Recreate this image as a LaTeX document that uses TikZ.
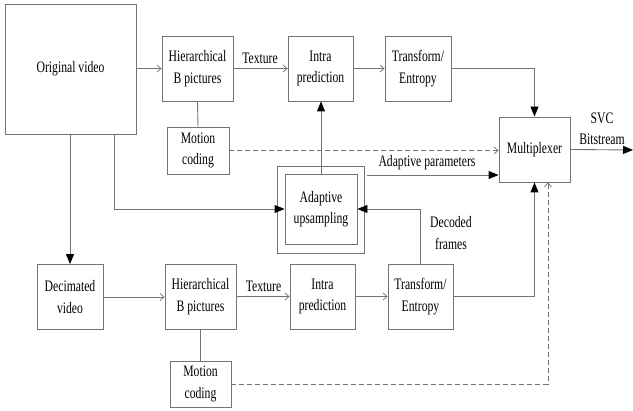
\documentclass[tikz,border=0pt]{standalone}
\usepackage{fontspec}
\setmainfont{Liberation Serif}[FakeStretch=0.73]
\usetikzlibrary{arrows.meta,calc}
\begin{document}
\begin{tikzpicture}[x=1pt,y=-1pt,
  line width=0.9pt,
  lc/.style={draw=black!55},
  box/.style={draw=black!55,line width=0.9pt,rectangle,inner sep=0pt,align=center,font=\fontsize{16}{21.5}\selectfont},
  lbl/.style={align=center,inner sep=0pt,font=\fontsize{16}{21.5}\selectfont},
  openar/.style={lc,-{Straight Barb[length=4pt,width=7pt,line width=0.7pt]}},
  fillar/.style={lc,-{Triangle[length=10pt,width=8pt,fill=black,color=black]}},
  dashar/.style={lc,dashed,dash pattern=on 5pt off 3pt,-{Straight Barb[length=4pt,width=7pt,line width=0.7pt]}}
]
\useasboundingbox (0,0) rectangle (633,411);
% top row
\node[box,minimum width=131pt,minimum height=130pt] (ov) at (70.5,69) {Original video};
\node[box,minimum width=71pt,minimum height=65pt] (hb1) at (197.5,68.5) {Hierarchical\\B pictures};
\node[box,minimum width=65pt,minimum height=65pt] (ip1) at (320.5,68.5) {Intra\\prediction};
\node[box,minimum width=66pt,minimum height=65pt] (te1) at (418,68.5) {Transform/\\Entropy};
\node[box,minimum width=62pt,minimum height=47pt] (mc1) at (198,150.5) {Motion\\coding};
\node[box,minimum width=71pt,minimum height=65pt] (mux) at (534.5,149.5) {Multiplexer};
% adaptive upsampling
\node[box,minimum width=87pt,minimum height=87pt] (auo) at (320.5,209.5) {};
\node[box,minimum width=72pt,minimum height=70pt] (aui) at (321,209) {Adaptive\\upsampling};
% bottom row
\node[box,minimum width=66pt,minimum height=65pt] (dv) at (70,297) {Decimated\\video};
\node[box,minimum width=71pt,minimum height=65pt] (hb2) at (200.5,296.5) {Hierarchical\\B pictures};
\node[box,minimum width=65pt,minimum height=65pt] (ip2) at (322.5,296.5) {Intra\\prediction};
\node[box,minimum width=65pt,minimum height=65pt] (te2) at (420.5,296.5) {Transform/\\Entropy};
\node[box,minimum width=61pt,minimum height=46pt] (mc2) at (200.5,384) {Motion\\coding};
% labels
\node[lbl] (tx1) at (260,58) {Texture};
\node[lbl] (tx2) at (263.5,286) {Texture};
\node[lbl] (ap) at (427,163) {Adaptive parameters};
\node[lbl] (df) at (451,233) {Decoded\\frames};
\node[lbl] (svc) at (602,129) {SVC\\Bitstream};
% coordinates
\coordinate (ovb) at (114,134);
\coordinate (apS) at (367,175);
\coordinate (out) at (633,150);
% connectors top
\draw[openar] (ov.east |- hb1.west) -- (hb1.west);
\draw[openar] (hb1.east) -- (ip1.west);
\draw[openar] (ip1.east) -- (te1.west);
\draw[fillar] (te1.east) -| (mux.north);
\draw[lc] (hb1.south) -- (mc1.north);
\draw[dashar] (mc1.east) -- (mc1.east -| mux.west);
\draw[fillar] (aui.north) -- (aui.north |- ip1.south);
\draw[fillar] (apS) -- (apS -| mux.west);
\draw[fillar] (ovb) |- (aui.west);
\draw[fillar] (te2.north) |- (aui.east);
\draw[fillar] (ov.south -| dv.north) -- (dv.north);
\draw[fillar] (mux.east) -- (out);
% connectors bottom
\draw[openar] (dv.east) -- (dv.east -| hb2.west);
\draw[openar] (hb2.east) -- (ip2.west);
\draw[openar] (ip2.east) -- (te2.west);
\draw[fillar] (te2.east) -| (mux.south);
\draw[lc] (hb2.south) -- (mc2.north);
\draw[dashar] (mc2.east) -| ([xshift=13.5pt]mux.south);
\end{tikzpicture}
\end{document}
